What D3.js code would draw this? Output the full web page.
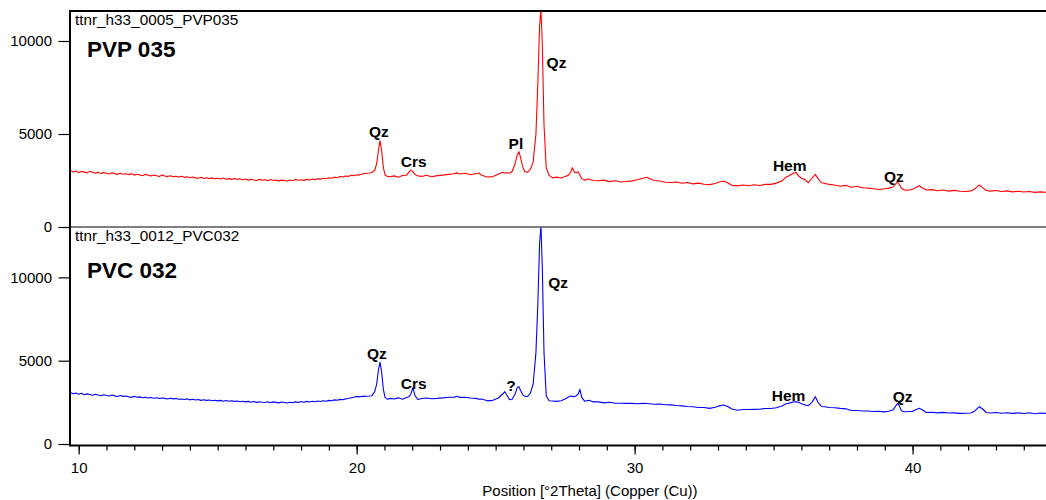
<!DOCTYPE html>
<html>
<head>
<meta charset="utf-8">
<script src="https://cdn.jsdelivr.net/npm/d3@7"></script>
<style>
  html, body { margin: 0; padding: 0; background: #fff; }
  svg { display: block; font-family: "Liberation Sans", Arial, sans-serif; }
</style>
</head>
<body>
<svg id="chart" width="1046" height="500"></svg>
<script>
// ---------------- DATA ----------------
const theta = [
  9.7, 9.8, 9.9, 10.0, 10.1, 10.2, 10.3, 10.4, 10.5, 10.6, 10.7, 10.8, 10.9, 11.0, 11.1, 11.2, 11.3, 11.4, 11.5, 11.6,
  11.7, 11.8, 11.9, 12.0, 12.1, 12.2, 12.3, 12.4, 12.5, 12.6, 12.7, 12.8, 12.9, 13.0, 13.1, 13.2, 13.3, 13.4, 13.5, 13.6,
  13.7, 13.8, 13.9, 14.0, 14.1, 14.2, 14.3, 14.4, 14.5, 14.6, 14.7, 14.8, 14.9, 15.0, 15.1, 15.2, 15.3, 15.4, 15.5, 15.6,
  15.7, 15.8, 15.9, 16.0, 16.1, 16.2, 16.3, 16.4, 16.5, 16.6, 16.7, 16.8, 16.9, 17.0, 17.1, 17.2, 17.3, 17.4, 17.5, 17.6,
  17.7, 17.8, 17.9, 18.0, 18.1, 18.2, 18.3, 18.4, 18.5, 18.6, 18.7, 18.8, 18.9, 19.0, 19.1, 19.2, 19.3, 19.4, 19.5, 19.6,
  19.7, 19.8, 19.9, 20.0, 20.1, 20.2, 20.3,
  20.45, 20.55, 20.65, 20.72, 20.78, 20.84, 20.90, 20.96, 21.02, 21.10, 21.2,
  21.35, 21.5, 21.65, 21.8, 21.88, 21.95, 22.02, 22.1, 22.2, 22.35,
  22.5, 22.7, 22.9, 23.1, 23.3, 23.5, 23.6, 23.7, 23.9, 24.1,
  24.3, 24.4, 24.5, 24.7, 24.9, 25.1, 25.25, 25.33, 25.42, 25.5,
  25.6, 25.7, 25.78, 25.84, 25.9, 25.98, 26.05, 26.15, 26.25, 26.35,
  26.45, 26.52, 26.58, 26.63, 26.68, 26.74, 26.82, 26.92, 27.05, 27.2,
  27.35, 27.5, 27.62, 27.7, 27.76, 27.83, 27.9, 27.97, 28.03, 28.1,
  28.2, 28.35, 28.5, 28.7, 28.9, 29.1, 29.3, 29.5, 29.7, 29.9,
  30.1, 30.3, 30.42, 30.55, 30.7, 30.9, 31.1, 31.3, 31.5, 31.7,
  31.9, 32.1, 32.3, 32.5, 32.7, 32.9, 33.05, 33.2, 33.35, 33.5,
  33.7, 33.9, 34.1, 34.3, 34.5, 34.7, 34.9, 35.1, 35.3, 35.45,
  35.6, 35.7, 35.8, 35.9, 36.0, 36.12, 36.25, 36.38, 36.5, 36.6,
  36.72, 36.85, 37.0, 37.2, 37.4, 37.6, 37.8, 38.0, 38.2, 38.4,
  38.6, 38.8, 39.0, 39.15, 39.3, 39.4, 39.46, 39.52, 39.6, 39.7,
  39.85, 40.0, 40.12, 40.24, 40.36, 40.5, 40.7, 40.9, 41.1, 41.3,
  41.5, 41.7, 41.9, 42.1, 42.25, 42.4, 42.52, 42.65, 42.8, 43.0,
  43.2, 43.4, 43.6, 43.8, 44.0, 44.2, 44.4, 44.6, 44.8
];

const pvp035 = [
  3040, 2960, 3010, 2930, 2990, 2950, 2910, 2990, 2940, 2890, 2950, 2870, 2930, 2890, 2850, 2920, 2870, 2830, 2890, 2840,
  2860, 2810, 2870, 2790, 2840, 2800, 2760, 2830, 2780, 2740, 2800, 2760, 2720, 2790, 2740, 2710, 2760, 2700, 2730, 2690,
  2730, 2670, 2700, 2650, 2690, 2640, 2620, 2670, 2610, 2650, 2600, 2640, 2590, 2620, 2580, 2630, 2570, 2600, 2560, 2610,
  2550, 2590, 2540, 2580, 2520, 2570, 2530, 2500, 2560, 2510, 2540, 2490, 2550, 2500, 2530, 2480, 2520, 2500, 2470, 2530,
  2490, 2550, 2510, 2540, 2500, 2560, 2530, 2580, 2540, 2600, 2570, 2620, 2590, 2650, 2620, 2680, 2650, 2710, 2690, 2740,
  2720, 2780, 2760, 2810, 2790, 2850, 2880,
  2900, 2930, 3050, 3400, 4100, 4640, 4100, 3200, 2800, 2720, 2700,
  2750, 2680, 2770, 2790, 2950, 3060, 2980, 2820, 2750, 2720,
  2780, 2700, 2760, 2790, 2830, 2860, 2910, 2850, 2890, 2810,
  2880, 2900, 2780, 2690, 2710, 2840, 2940, 2900, 2920, 2890,
  3000, 3400, 3900, 4050, 3700, 3200, 2980, 2950, 3100, 3500,
  5000, 7800, 10800, 11700, 9800, 5500, 3200, 2780, 2640, 2680,
  2630, 2710, 2780, 2950, 3190, 2950, 2920, 2970, 2800, 2600,
  2520, 2580, 2500, 2490, 2520, 2440, 2490, 2420, 2450, 2480,
  2540, 2620, 2670, 2600, 2500, 2470, 2410, 2390, 2420, 2350,
  2390, 2320, 2360, 2300, 2280, 2340, 2420, 2470, 2380, 2240,
  2210, 2260, 2220, 2270, 2230, 2290, 2290, 2360, 2480, 2680,
  2800, 2870, 2940, 2750, 2620, 2560, 2380, 2620, 2830, 2600,
  2380, 2340, 2290, 2260, 2190, 2240, 2140, 2190, 2110, 2090,
  2060, 2020, 2060, 2090, 2150, 2330, 2430, 2300, 2080, 1990,
  1980, 2030, 2120, 2220, 2100, 1990, 2010, 1950, 1990, 1930,
  1970, 1920, 1910, 1940, 2060, 2260, 2120, 1960, 1930, 1960,
  1910, 1940, 1890, 1920, 1880, 1910, 1860, 1890, 1865
];

const pvc032 = [
  3090, 3020, 3060, 2990, 3040, 2960, 3010, 2970, 2930, 2990, 2940, 2900, 2960, 2910, 2880, 2940, 2890, 2850, 2910, 2860,
  2880, 2830, 2810, 2860, 2800, 2830, 2780, 2810, 2760, 2790, 2750, 2780, 2730, 2760, 2740, 2700, 2750, 2710, 2730, 2690,
  2700, 2670, 2710, 2650, 2690, 2640, 2670, 2620, 2660, 2620, 2640, 2600, 2630, 2590, 2620, 2570, 2610, 2570, 2600, 2560,
  2580, 2540, 2570, 2530, 2560, 2510, 2550, 2500, 2540, 2510, 2490, 2540, 2480, 2530, 2500, 2470, 2520, 2490, 2460, 2510,
  2480, 2530, 2490, 2550, 2510, 2560, 2520, 2570, 2540, 2580, 2550, 2600, 2570, 2620, 2600, 2650, 2630, 2680, 2660, 2710,
  2730, 2780, 2810, 2860, 2830, 2870, 2860,
  2880, 2900, 3140, 3600, 4400, 4920, 4300, 3300, 2800, 2690, 2740,
  2700, 2770, 2690, 2790, 2840, 3000, 3380, 2900, 2670, 2730,
  2760, 2720, 2740, 2770, 2810, 2810, 2860, 2800, 2800, 2760,
  2740, 2690, 2700, 2590, 2620, 2760, 3000, 3140, 2900, 2660,
  2700, 3000, 3400, 3440, 3200, 2950, 2860, 2850, 3050, 3600,
  5500, 8500, 12000, 13100, 10500, 5500, 2900, 2600, 2580, 2560,
  2600, 2700, 2820, 2880, 2860, 2840, 2900, 3000, 3280, 2800,
  2570, 2630, 2530, 2530, 2470, 2510, 2450, 2450, 2440, 2440,
  2420, 2440, 2430, 2420, 2390, 2400, 2360, 2350, 2310, 2290,
  2250, 2240, 2190, 2190, 2140, 2210, 2290, 2340, 2250, 2100,
  2030, 2070, 2070, 2080, 2090, 2130, 2130, 2180, 2280, 2420,
  2470, 2520, 2540, 2500, 2420, 2350, 2300, 2500, 2840, 2500,
  2250, 2240, 2190, 2180, 2140, 2110, 2010, 2010, 1980, 1980,
  1950, 1960, 1930, 1970, 2050, 2300, 2440, 2300, 2000, 1940,
  1950, 1960, 2060, 2140, 2040, 1890, 1910, 1870, 1900, 1860,
  1870, 1840, 1850, 1860, 2000, 2240, 2100, 1890, 1860, 1890,
  1850, 1880, 1840, 1870, 1830, 1880, 1820, 1860, 1840
];

const xMajorTicks = [10, 20, 30, 40];
const xMinorTicks = [10,11,12,13,14,15,16,17,18,19,20,21,22,23,24,25,26,27,28,29,30,31,32,33,34,35,36,37,38,39,40,41,42,43,44];
const yTicks = [0, 5000, 10000];

const topLabels = ["Qz", "Crs", "Pl", "Qz", "Hem", "Qz"];
const topLabelTheta = [20.80, 22.05, 25.73, 27.19, 35.58, 39.33];
const topLabelValue = [4838, 3226, 4220, 8548, 3011, 2419];

const botLabels = ["Qz", "Crs", "?", "Qz", "Hem", "Qz"];
const botLabelTheta = [20.73, 22.05, 25.55, 27.25, 35.54, 39.64];
const botLabelValue = [5085, 3302, 3200, 9383, 2600, 2503];

const topName = "ttnr_h33_0005_PVP035";
const botName = "ttnr_h33_0012_PVC032";
const topTitle = "PVP 035";
const botTitle = "PVC 032";
const xTitle = "Position [°2Theta] (Copper (Cu))";

// ---------------- LAYOUT ----------------
const svg = d3.select("#chart");
const L = 70.5, R = 1046;
const topY0 = 11, midY = 227, botY = 444, axisY = 445.5;

const x = d3.scaleLinear().domain([9.705, 44.8]).range([L, R]);
const yTop = d3.scaleLinear().domain([0, 11613]).range([midY, topY0]);
const yBot = d3.scaleLinear().domain([0, 13025]).range([botY, midY]);

const defs = svg.append("defs");
defs.append("clipPath").attr("id", "clipTop").append("rect")
  .attr("x", L).attr("y", topY0).attr("width", R - L).attr("height", midY - topY0);
defs.append("clipPath").attr("id", "clipBot").append("rect")
  .attr("x", L).attr("y", midY).attr("width", R - L).attr("height", axisY - midY);

const topData = theta.map((t, i) => [t, pvp035[i]]);
const botData = theta.map((t, i) => [t, pvc032[i]]);

svg.append("path").datum(topData)
  .attr("clip-path", "url(#clipTop)")
  .attr("fill", "none").attr("stroke", "#ff0000").attr("stroke-width", 1.1)
  .attr("stroke-linejoin", "round")
  .attr("d", d3.line().x(d => x(d[0])).y(d => yTop(d[1])));

svg.append("path").datum(botData)
  .attr("clip-path", "url(#clipBot)")
  .attr("fill", "none").attr("stroke", "#0000ff").attr("stroke-width", 1.1)
  .attr("stroke-linejoin", "round")
  .attr("d", d3.line().x(d => x(d[0])).y(d => yBot(d[1])));

// frame lines
svg.append("line").attr("x1", L).attr("x2", R).attr("y1", topY0).attr("y2", topY0)
  .attr("stroke", "#000").attr("stroke-width", 2);
svg.append("line").attr("x1", L).attr("x2", R).attr("y1", midY).attr("y2", midY)
  .attr("stroke", "#555").attr("stroke-width", 1.5);
svg.append("line").attr("x1", L).attr("x2", R).attr("y1", axisY).attr("y2", axisY)
  .attr("stroke", "#000").attr("stroke-width", 2);
svg.append("line").attr("x1", L - 0.5).attr("x2", L - 0.5).attr("y1", topY0 - 1).attr("y2", axisY + 1)
  .attr("stroke", "#000").attr("stroke-width", 2);

// y axes
function styleAxis(g) {
  g.select(".domain").remove();
  g.selectAll(".tick line").attr("stroke", "#000").attr("stroke-width", 1.2);
  g.selectAll(".tick text").attr("fill", "#000")
    .attr("font-family", "Liberation Sans, Arial, sans-serif").attr("font-size", 15);
}
svg.append("g").attr("transform", `translate(${L - 1},0)`)
  .call(d3.axisLeft(yTop).tickValues(yTicks).tickFormat(d3.format("d")).tickSize(11).tickPadding(6.5))
  .call(styleAxis);
svg.append("g").attr("transform", `translate(${L - 1},0)`)
  .call(d3.axisLeft(yBot).tickValues(yTicks).tickFormat(d3.format("d")).tickSize(11).tickPadding(6.5))
  .call(styleAxis);

// x axis
svg.append("g").attr("transform", `translate(0,${axisY})`)
  .call(d3.axisBottom(x).tickValues(xMinorTicks).tickFormat("").tickSize(5))
  .call(styleAxis);
svg.append("g").attr("transform", `translate(0,${axisY})`)
  .call(d3.axisBottom(x).tickValues(xMajorTicks).tickFormat(d3.format("d")).tickSize(9).tickPadding(8))
  .call(styleAxis);

svg.append("text").attr("x", 590).attr("y", 495.5).attr("text-anchor", "middle")
  .attr("font-size", 15).attr("fill", "#000").text(xTitle);

// panel names
svg.append("text").attr("x", 75).attr("y", 24.5).attr("font-size", 15.3).attr("fill", "#000").text(topName);
svg.append("text").attr("x", 75).attr("y", 240.5).attr("font-size", 15.3).attr("fill", "#000").text(botName);
svg.append("text").attr("x", 87).attr("y", 56.5).attr("font-size", 22.5).attr("font-weight", "bold").attr("fill", "#000").text(topTitle);
svg.append("text").attr("x", 87).attr("y", 278.3).attr("font-size", 22.5).attr("font-weight", "bold").attr("fill", "#000").text(botTitle);

// peak labels
svg.append("g").selectAll("text").data(topLabels).join("text")
  .attr("x", (d, i) => x(topLabelTheta[i])).attr("y", (d, i) => yTop(topLabelValue[i]))
  .attr("text-anchor", "middle").attr("font-size", 15.5).attr("font-weight", "bold")
  .attr("fill", "#000").text(d => d);
svg.append("g").selectAll("text").data(botLabels).join("text")
  .attr("x", (d, i) => x(botLabelTheta[i])).attr("y", (d, i) => yBot(botLabelValue[i]))
  .attr("text-anchor", "middle").attr("font-size", 15.5).attr("font-weight", "bold")
  .attr("fill", "#000").text(d => d);
</script>
</body>
</html>
